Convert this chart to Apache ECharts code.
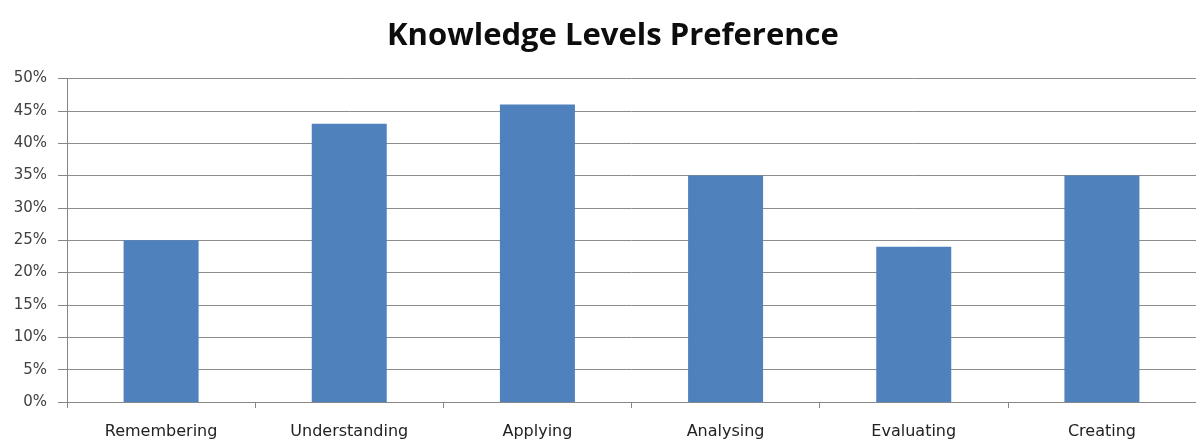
<!DOCTYPE html>
<html>
<head>
<meta charset="utf-8">
<script src="https://cdn.jsdelivr.net/npm/echarts@6/dist/echarts.min.js"></script>
<style>
html, body { margin: 0; padding: 0; background: #fff; }
#chart { width: 1196px; height: 440px; }
</style>
</head>
<body>
<div id="chart"></div>
<script>
// data
var categories = ['Remembering', 'Understanding', 'Applying', 'Analysing', 'Evaluating', 'Creating'];
var preference = [25, 43, 46, 35, 24, 35];
var yTicks = [0, 5, 10, 15, 20, 25, 30, 35, 40, 45, 50];

var myChart = echarts.init(document.getElementById('chart'));

var option = {
	animation : false,
	title : {
		text : 'Knowledge Levels Preference',
		left : 382,
		top : 16,
		textStyle : {
			fontFamily : 'Open Sans',
			fontWeight : 'bold',
			fontSize : 31,
			color : '#0d0d0d'
		}
	},
	grid : {
		left : 67,
		right : -8,
		top : 78.5,
		bottom : 37.5
	},
	xAxis : {
		type : 'category',
		data : categories,
		axisLine : { lineStyle : { color : '#868686', width : 1 } },
		axisTick : { show : true, length : 6, lineStyle : { color : '#868686' } },
		axisLabel : {
			margin : 22,
			fontFamily : 'DejaVu Sans',
			fontSize : 16,
			color : '#222'
		}
	},
	yAxis : {
		type : 'value',
		min : yTicks[0],
		max : yTicks[yTicks.length - 1],
		interval : 5,
		axisLine : { show : true, lineStyle : { color : '#868686', width : 1 } },
		axisTick : { show : true, length : 9, lineStyle : { color : '#868686' } },
		axisLabel : {
			margin : 20,
			fontFamily : 'DejaVu Sans',
			fontSize : 15,
			color : '#404040',
			formatter : '{value}%'
		},
		splitLine : { lineStyle : { color : '#8c8c8c', width : 1 } }
	},
	series : [ {
		name : 'Preference',
		type : 'bar',
		barWidth : 75,
		itemStyle : { color : '#4f81bd' },
		data : preference
	} ]
};

myChart.setOption(option);
</script>
</body>
</html>
